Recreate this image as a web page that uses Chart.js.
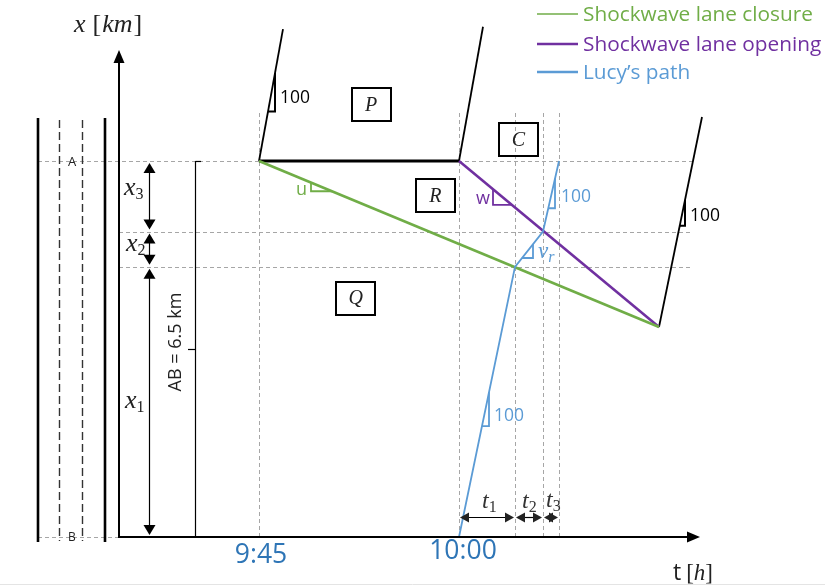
<!DOCTYPE html>
<html lang="en">
<head>
<meta charset="UTF-8">
<title>Lane closure shockwaves</title>
<style>
  body { margin: 0; background: #fff; }
  #wrap { width: 825px; height: 585px; position: relative; }
</style>
<script src="https://cdn.jsdelivr.net/npm/chart.js"></script>
</head>
<body>
<div id="wrap"><canvas id="chart"></canvas></div>
<script>
// time in hours (9.75 = 9:45), position in km measured from B
const closureT = [9.75, 10.25];
const closureX = [6.5, 3.63];
const openingT = [10.0, 10.25];
const openingX = [6.5, 3.63];
const lucyT = [10.0, 10.07, 10.105, 10.125];
const lucyX = [0, 4.67, 5.28, 6.5];
const roadLeftT = [9.75, 9.78];
const roadLeftX = [6.5, 8.78];
const roadMidT = [10.0, 10.03];
const roadMidX = [6.5, 8.82];
const roadRightT = [10.25, 10.30375];
const roadRightX = [3.63, 7.26];
const queueT = [9.75, 10.0];
const queueX = [6.5, 6.5];

const guideTimes = [9.75, 10.0, 10.07, 10.105, 10.125];
const guideKm = [6.5, 5.28, 4.67];
const tickTimes = [9.75, 10.0];
const tickLabels = ['9:45', '10:00'];
const roadLength = 6.5;

const regionNames = ['P', 'Q', 'R', 'C'];
const regionT = [9.89, 9.871, 9.9706, 10.0744];
const regionX = [7.47, 4.13, 5.895, 6.871];

const GREEN = '#70AD47';
const PURPLE = '#7030A0';
const BLUE = '#5B9BD5';
const TIMEBLUE = '#2E75B6';
const INK = '#222';
const SANS = "'Open Sans', sans-serif";
const SERIF = "'Liberation Serif', serif";

const pts = (ts, xs) => ts.map((t, i) => ({ x: t, y: xs[i] }));

// piecewise linear position on a path at time t
function posAt(ts, xs, t) {
  for (let i = 0; i < ts.length - 1; i++) {
    if (t >= ts[i] && t <= ts[i + 1]) {
      const k = (t - ts[i]) / (ts[i + 1] - ts[i]);
      return xs[i] + k * (xs[i + 1] - xs[i]);
    }
  }
  return xs[xs.length - 1];
}

// slope triangles: two times on a path, label + offset from the corner
const slopeMarks = [
  { ts: roadLeftT, xs: roadLeftX, a: 9.76125, b: 9.77, color: '#000', text: '100', dx: 5, dy: -13, align: 'left' },
  { ts: roadRightT, xs: roadRightX, a: 10.2759, b: 10.2825, color: '#000', text: '100', dx: 5, dy: -10, align: 'left' },
  { ts: closureT, xs: closureX, a: 9.815, b: 9.84125, color: GREEN, text: 'u', dx: -4, dy: -1, align: 'right' },
  { ts: openingT, xs: openingX, a: 10.0425, b: 10.06625, color: PURPLE, text: 'w', dx: -3, dy: -6, align: 'right' },
  { ts: lucyT, xs: lucyX, a: 10.1116, b: 10.12, color: BLUE, text: '100', dx: 6, dy: -11, align: 'left' },
  { ts: lucyT, xs: lucyX, a: 10.02875, b: 10.0375, color: BLUE, text: '100', dx: 5, dy: -10, align: 'left' },
  { ts: lucyT, xs: lucyX, a: 10.07875, b: 10.0925, color: BLUE, text: null, dx: 0, dy: 0, align: 'left' }
];

function line(c, x1, y1, x2, y2) {
  c.beginPath(); c.moveTo(x1, y1); c.lineTo(x2, y2); c.stroke();
}

function head(c, x, y, dir, len, half) {
  // dir: 'up','down','left','right' -> tip at (x,y)
  c.beginPath();
  c.moveTo(x, y);
  if (dir === 'up') { c.lineTo(x - half, y + len); c.lineTo(x + half, y + len); }
  if (dir === 'down') { c.lineTo(x - half, y - len); c.lineTo(x + half, y - len); }
  if (dir === 'left') { c.lineTo(x + len, y - half); c.lineTo(x + len, y + half); }
  if (dir === 'right') { c.lineTo(x - len, y - half); c.lineTo(x - len, y + half); }
  c.closePath();
  c.fill();
}

// draw runs of text, e.g. italic letter + subscript
function runs(c, x, y, parts, color) {
  c.fillStyle = color;
  c.textAlign = 'left';
  c.textBaseline = 'alphabetic';
  let cx = x;
  parts.forEach(p => {
    c.font = p.f;
    c.fillText(p.t, cx, y + (p.dy || 0));
    cx += c.measureText(p.t).width + (p.gap || 0);
  });
}

const overlay = {
  id: 'overlay',
  beforeDatasetsDraw(chart) {
    const c = chart.ctx;
    const X = v => chart.scales.x.getPixelForValue(v);
    const Y = v => chart.scales.y.getPixelForValue(v);
    c.save();
    c.strokeStyle = '#A6A6A6';
    c.lineWidth = 1;
    c.setLineDash([4, 3]);
    guideTimes.forEach(t => line(c, Math.round(X(t)) + 0.5, 113, Math.round(X(t)) + 0.5, Y(0)));
    guideKm.forEach((k, i) => {
      const y = Math.round(Y(k)) + 0.5;
      line(c, i === 0 ? 38 : X(9.575), y, i === 0 ? 695 : 690, y);
    });
    line(c, 38, Y(0) + 0.5, X(9.575), Y(0) + 0.5);
    c.restore();
  },
  afterDatasetsDraw(chart) {
    const c = chart.ctx;
    const X = v => chart.scales.x.getPixelForValue(v);
    const Y = v => chart.scales.y.getPixelForValue(v);
    c.save();

    // road schematic on the left
    c.strokeStyle = '#000';
    c.lineWidth = 2.6;
    line(c, 38, 118, 38, 542);
    line(c, 105, 118, 105, 542);
    c.strokeStyle = '#333';
    c.lineWidth = 1.4;
    c.setLineDash([8, 4]);
    line(c, 59.5, 120, 59.5, 541);
    line(c, 82.5, 120, 82.5, 541);
    c.setLineDash([]);
    c.fillStyle = '#222';
    c.font = '13px ' + SANS;
    c.textAlign = 'center';
    c.textBaseline = 'middle';
    c.fillText('A', 72, 162);
    c.font = '12px ' + SANS;
    c.fillText('B', 72, 538);

    // axes
    const ax0 = X(9.575), ay0 = Y(0);
    c.strokeStyle = '#000';
    c.fillStyle = '#000';
    c.lineWidth = 2;
    line(c, ax0, ay0 + 1, ax0, 60);
    head(c, ax0, 50, 'up', 13, 5.5);
    line(c, ax0 - 1, ay0, 690, ay0);
    head(c, 700, ay0, 'right', 13, 5.5);
    runs(c, 74, 32, [
      { t: 'x', f: 'italic 26px ' + SERIF, gap: 7 },
      { t: '[', f: '26px ' + SERIF, gap: 1 },
      { t: 'km', f: 'italic 26px ' + SERIF, gap: 1 },
      { t: ']', f: '26px ' + SERIF }
    ], INK);
    runs(c, 673, 580, [
      { t: 't', f: '23px ' + SANS, gap: 5 },
      { t: '[', f: '23px ' + SERIF },
      { t: 'h', f: 'italic 23px ' + SERIF },
      { t: ']', f: '23px ' + SERIF }
    ], INK);

    // time ticks
    c.fillStyle = TIMEBLUE;
    c.font = '26.5px ' + SANS;
    c.textAlign = 'center';
    c.textBaseline = 'middle';
    tickTimes.forEach((t, i) => c.fillText(tickLabels[i], X(t) + (i === 0 ? 2 : 4), i === 0 ? 555 : 551));

    // AB bracket
    c.strokeStyle = '#000';
    c.lineWidth = 1.2;
    line(c, 195.5, Y(roadLength), 195.5, ay0);
    line(c, 195.5, Y(roadLength) + 0.5, 201, Y(roadLength) + 0.5);
    const mid = Math.round(Y(roadLength / 2)) + 0.5;
    line(c, 188, mid, 195.5, mid);
    c.save();
    c.translate(176, 342);
    c.rotate(-Math.PI / 2);
    c.fillStyle = INK;
    c.font = '18px ' + SANS;
    c.textAlign = 'center';
    c.textBaseline = 'middle';
    c.fillText('AB = ' + roadLength + ' km', 0, 0);
    c.restore();

    // x1..x3 dimension arrows
    c.lineWidth = 1.2;
    c.fillStyle = '#000';
    const levels = [0].concat(guideKm.slice().reverse()); // 0, 4.67, 5.28, 6.5
    for (let i = 0; i < 3; i++) {
      const yb = Y(levels[i]) - 2, yt = Y(levels[i + 1]) + 2;
      line(c, 149.5, yb - 9, 149.5, yt + 9);
      head(c, 149.5, yb, 'down', 10, 6);
      head(c, 149.5, yt, 'up', 10, 6);
    }
    const xLab = [[125, 408, '1'], [126, 251, '2'], [124, 195, '3']];
    xLab.forEach(l => runs(c, l[0], l[1], [
      { t: 'x', f: 'italic 26px ' + SERIF },
      { t: l[2], f: '16px ' + SERIF, dy: 4 }
    ], INK));

    // t1..t3 dimension arrows
    const ty = 517.5;
    const spans = [[guideTimes[1], guideTimes[2]], [guideTimes[2], guideTimes[3]], [guideTimes[3], guideTimes[4]]];
    spans.forEach(s => {
      const xl = X(s[0]) + 1, xr = X(s[1]) - 1;
      line(c, xl + 6, ty, xr - 6, ty);
      head(c, xl, ty, 'left', 9, 5);
      head(c, xr, ty, 'right', 9, 5);
    });
    const tLab = [[482, 508, '1'], [522, 508, '2'], [546, 507, '3']];
    tLab.forEach(l => runs(c, l[0], l[1], [
      { t: 't', f: 'italic 24px ' + SERIF },
      { t: l[2], f: '16px ' + SERIF, dy: 4 }
    ], '#333'));

    // region boxes
    regionNames.forEach((n, i) => {
      const cx = X(regionT[i]), cy = Y(regionX[i]);
      c.strokeStyle = '#000';
      c.lineWidth = 2;
      c.strokeRect(Math.round(cx - 19.5), Math.round(cy - 16.5), 39, 33);
      c.fillStyle = INK;
      c.font = 'italic 20px ' + SERIF;
      c.textAlign = 'center';
      c.textBaseline = 'middle';
      c.fillText(n, cx, cy + 1);
    });

    // slope triangles
    slopeMarks.forEach(m => {
      const pa = { x: X(m.a), y: Y(posAt(m.ts, m.xs, m.a)) };
      const pb = { x: X(m.b), y: Y(posAt(m.ts, m.xs, m.b)) };
      const hi = pa.y < pb.y ? pa : pb;
      const lo = pa.y < pb.y ? pb : pa;
      c.strokeStyle = m.color;
      c.lineWidth = m.color === '#000' ? 2 : 1.8;
      c.beginPath();
      c.moveTo(lo.x, lo.y);
      c.lineTo(hi.x, lo.y);
      c.lineTo(hi.x, hi.y);
      c.stroke();
      if (m.text) {
        c.fillStyle = m.color;
        c.font = (m.text === '100' ? '17.5px ' : '18px ') + SANS;
        c.textAlign = m.align;
        c.textBaseline = 'middle';
        c.fillText(m.text, hi.x + m.dx, lo.y + m.dy);
      }
    });
    runs(c, 538, 258, [
      { t: 'v', f: 'italic 23px ' + SERIF },
      { t: 'r', f: 'italic 16px ' + SERIF, dy: 4 }
    ], BLUE);

    // legend
    const legendColors = [GREEN, PURPLE, BLUE];
    const legendWidths = [1.6, 2.6, 2.6];
    const legendY = [14, 44, 72];
    chart.data.datasets.slice(0, 3).forEach((ds, i) => {
      c.strokeStyle = legendColors[i];
      c.lineWidth = legendWidths[i];
      line(c, 537, legendY[i], 578, legendY[i]);
      c.fillStyle = legendColors[i];
      c.font = '20.8px ' + SANS;
      c.textAlign = 'left';
      c.textBaseline = 'middle';
      c.fillText(ds.label, 583, legendY[i] + 1);
    });

    c.strokeStyle = '#E4E4E4';
    c.lineWidth = 1;
    line(c, 0, 584.5, 825, 584.5);
    c.restore();
  }
};

const ctx = document.getElementById('chart').getContext('2d');
const base = { showLine: true, pointRadius: 0, fill: false, tension: 0 };
new Chart(ctx, {
  type: 'scatter',
  data: {
    datasets: [
      { ...base, label: 'Shockwave lane closure', data: pts(closureT, closureX), borderColor: GREEN, borderWidth: 2.6, order: 2 },
      { ...base, label: 'Shockwave lane opening', data: pts(openingT, openingX), borderColor: PURPLE, borderWidth: 2.6, order: 2 },
      { ...base, label: "Lucy\u2019s path", data: pts(lucyT, lucyX), borderColor: BLUE, borderWidth: 1.8, order: 1 },
      { ...base, label: 'road', data: pts(roadLeftT, roadLeftX), borderColor: '#000', borderWidth: 1.8, order: 3 },
      { ...base, label: 'road', data: pts(roadMidT, roadMidX), borderColor: '#000', borderWidth: 1.8, order: 3 },
      { ...base, label: 'road', data: pts(roadRightT, roadRightX), borderColor: '#000', borderWidth: 1.8, order: 3 },
      { ...base, label: 'queue', data: pts(queueT, queueX), borderColor: '#000', borderWidth: 3, order: 3 }
    ]
  },
  options: {
    responsive: true,
    maintainAspectRatio: false,
    animation: false,
    events: [],
    layout: { padding: 0 },
    plugins: { legend: { display: false }, tooltip: { enabled: false } },
    scales: {
      x: { type: 'linear', min: 9.42625, max: 10.4575, display: false },
      y: { type: 'linear', min: -0.8297, max: 9.2826, display: false }
    }
  },
  plugins: [overlay]
});
</script>
</body>
</html>
